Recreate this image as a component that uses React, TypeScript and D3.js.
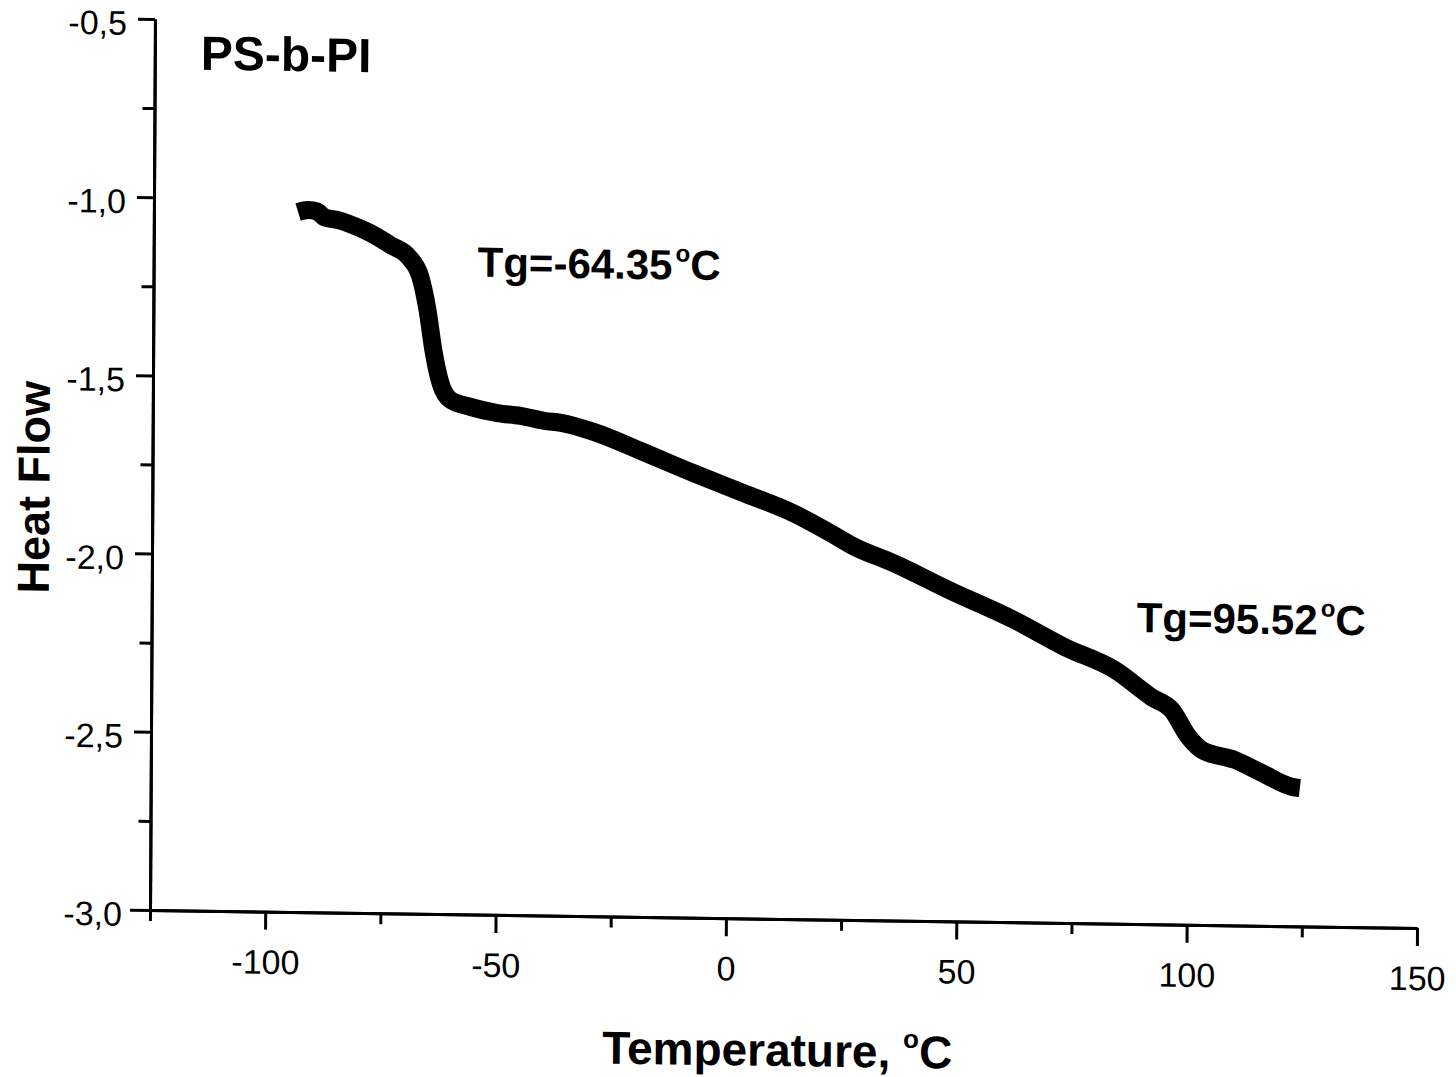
import React, { useEffect, useRef } from 'react';
import * as d3 from 'd3';

// DSC trace (temperature in °C, heat flow)
const temps = [
  -93.7, -91.5, -89.5, -88, -85, -83, -78, -73.6, -69.7, -67.1, -65.5, -64.2,
  -62.6, -60.4, -56, -50.2, -45.2, -40, -36.4, -29.3, -18.6, -7.7, 3.2, 14.1,
  23.7, 27, 35.9, 47.9, 62.2, 73.2, 84.1, 92.1, 96.5, 100.2, 103.1, 110.3,
  116.1, 122.7, 124.4,
];
const heatFlow = [
  -1.036, -1.03, -1.034, -1.05, -1.057, -1.065, -1.092, -1.125, -1.157, -1.213,
  -1.306, -1.417, -1.51, -1.557, -1.576, -1.592, -1.599, -1.612, -1.617, -1.641,
  -1.695, -1.752, -1.806, -1.861, -1.926, -1.95, -1.997, -2.07, -2.152, -2.226,
  -2.288, -2.363, -2.398, -2.473, -2.509, -2.536, -2.571, -2.609, -2.612,
];

const xMajor = [-100, -50, 0, 50, 100, 150];
const xMajorLabels = ['-100', '-50', '0', '50', '100', '150'];
const xMinor = [-125, -75, -25, 25, 75, 125];
const yMajor = [-0.5, -1, -1.5, -2, -2.5, -3];
const yMajorLabels = ['-0,5', '-1,0', '-1,5', '-2,0', '-2,5', '-3,0'];
const yMinor = [-0.75, -1.25, -1.75, -2.25, -2.75];

const title = 'PS-b-PI';
const tgLow = 'Tg=-64.35';
const tgHigh = 'Tg=95.52';

const W = 1456;
const H = 1077;
const FONT = '"Liberation Sans", Arial, Helvetica, sans-serif';

export default function App() {
  const ref = useRef<SVGSVGElement | null>(null);

  useEffect(() => {
    const svg = d3.select(ref.current);
    svg.selectAll('*').remove();

    const x = d3.scaleLinear().domain([-125, 150]).range([150, 1417]);
    const y = d3.scaleLinear().domain([-3, -0.5]).range([910, 19]);

    // the scan is slightly skewed, so the whole plot is too
    const g = svg.append('g').attr('transform', 'matrix(1,0.0142,-0.0056,1,5.1,-2.13)');

    const styleAxis = (sel: any) => {
      sel.select('.domain').attr('stroke', '#000').attr('stroke-width', 3);
      sel.selectAll('.tick line').attr('stroke', '#000').attr('stroke-width', 3);
      sel.selectAll('text').attr('fill', '#000');
      sel.attr('font-family', FONT).attr('font-size', 34);
    };

    const xMinorAxis = g.append('g').attr('transform', 'translate(0,910)')
      .call(d3.axisBottom(x).tickValues(xMinor).tickSize(11).tickSizeOuter(0).tickFormat(() => ''));
    styleAxis(xMinorAxis);

    const xAxis = g.append('g').attr('transform', 'translate(0,910)')
      .call(d3.axisBottom(x).tickValues(xMajor).tickSize(18).tickSizeOuter(0)
        .tickFormat((d, i) => xMajorLabels[i]));
    styleAxis(xAxis);
    xAxis.selectAll('text').attr('y', 38);

    const yMinorAxis = g.append('g').attr('transform', 'translate(150,0)')
      .call(d3.axisLeft(y).tickValues(yMinor).tickSize(12).tickSizeOuter(0).tickFormat(() => ''));
    styleAxis(yMinorAxis);

    const yAxis = g.append('g').attr('transform', 'translate(150,0)')
      .call(d3.axisLeft(y).tickValues(yMajor).tickSize(17).tickSizeOuter(0)
        .tickFormat((d, i) => yMajorLabels[i]));
    styleAxis(yAxis);
    yAxis.selectAll('text').attr('x', -28).attr('dy', '0.46em');
    yAxis.selectAll('.tick').filter((d: any) => d === -3).select('line').attr('x2', -20);

    const pts = temps.map((t, i) => [t, heatFlow[i]] as [number, number]);
    const line = d3.line<[number, number]>()
      .x(d => x(d[0]))
      .y(d => y(d[1]))
      .curve(d3.curveMonotoneX);

    g.append('path')
      .datum(pts)
      .attr('d', line)
      .attr('fill', 'none')
      .attr('stroke', '#000')
      .attr('stroke-width', 18)
      .attr('stroke-linejoin', 'round')
      .attr('stroke-linecap', 'butt');

    const txt = g.append('g').attr('font-family', FONT).attr('font-weight', 'bold').attr('fill', '#000');

    txt.append('text')
      .attr('x', 196).attr('y', 69)
      .attr('font-size', 48)
      .text(title);

    const degLabel = (label: string, px: number, py: number) => {
      const t = txt.append('text').attr('x', px).attr('y', py).attr('font-size', 42);
      t.append('tspan').text(label);
      t.append('tspan').attr('font-size', 24).attr('dy', -18).attr('dx', 3).text('o');
      t.append('tspan').attr('dy', 18).text('C');
    };
    degLabel(tgLow, 474, 272);
    degLabel(tgHigh, 1135, 618);

    txt.append('text')
      .attr('transform', 'translate(47,489) rotate(-90)')
      .attr('text-anchor', 'middle')
      .attr('font-size', 45)
      .text('Heat Flow');

    const xt = txt.append('text')
      .attr('x', 778).attr('y', 1057)
      .attr('text-anchor', 'middle')
      .attr('font-size', 46);
    xt.append('tspan').text('Temperature, ');
    xt.append('tspan').attr('font-size', 26).attr('dy', -20).text('o');
    xt.append('tspan').attr('dy', 20).text('C');
  }, []);

  return (
    <svg
      ref={ref}
      width={W}
      height={H}
      style={{ position: 'absolute', left: 0, top: 0, background: '#fff' }}
    />
  );
}
